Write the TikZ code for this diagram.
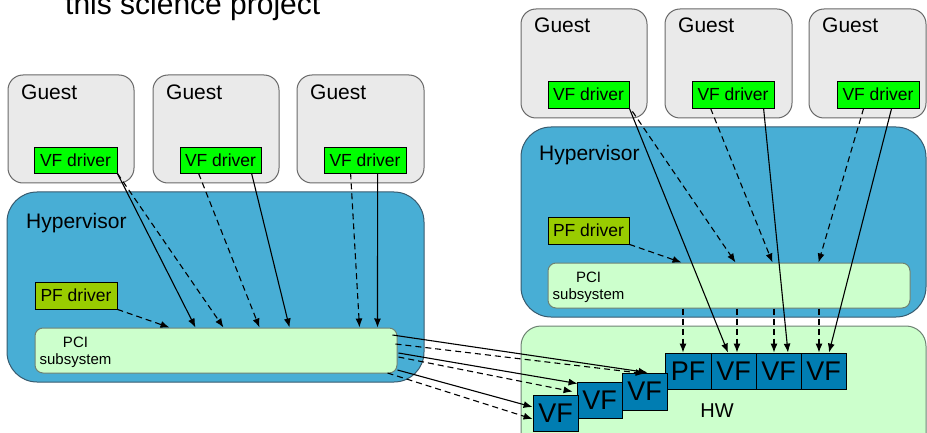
\documentclass[tikz,border=0pt]{standalone}
\usepackage{fontspec}
\setmainfont{Liberation Sans}
\usetikzlibrary{calc,arrows.meta}
\definecolor{guestfill}{RGB}{234,234,234}
\definecolor{guestline}{RGB}{105,105,105}
\definecolor{hypfill}{RGB}{72,174,213}
\definecolor{hypline}{RGB}{55,90,110}
\definecolor{pcifill}{RGB}{204,255,204}
\definecolor{pciline}{RGB}{110,130,115}
\definecolor{vfgreen}{RGB}{0,255,0}
\definecolor{pfgreen}{RGB}{153,204,0}
\definecolor{fnblue}{RGB}{0,125,178}
\begin{document}
\begin{tikzpicture}[x=1pt,y=-1pt,
  guest/.style={draw=guestline,fill=guestfill,rounded corners=15pt,line width=1pt,inner sep=0},
  hyp/.style={draw=hypline,fill=hypfill,rounded corners=30pt,line width=1pt,inner sep=0},
  pci/.style={draw=pciline,fill=pcifill,rounded corners=8pt,line width=1pt,inner sep=0},
  hwbox/.style={draw=pciline,fill=pcifill,rounded corners=20pt,line width=1pt,inner sep=0},
  vfd/.style={draw=black,fill=vfgreen,line width=0.8pt,inner sep=0,font=\fontsize{17.5}{20}\selectfont},
  pfd/.style={vfd,fill=pfgreen},
  fn/.style={draw=black,fill=fnblue,line width=0.8pt,inner sep=0,font=\fontsize{27}{30}\selectfont},
  lbl/.style={anchor=base west,inner sep=0,font=\fontsize{21}{24}\selectfont},
  pcitxt/.style={inner sep=0,align=center,font=\fontsize{15}{17}\selectfont},
  sol/.style={-{Latex[length=9pt,width=7pt]},line width=1.1pt},
  dsh/.style={sol,dash pattern=on 6pt off 4pt}]
\useasboundingbox (0,0) rectangle (927,433);

% heading
\node[anchor=base west,inner sep=0,font=\fontsize{30}{34}\selectfont] (title) at (65,15) {this science project};

% ---------- left: emulated setup ----------
\node[guest,minimum width=126,minimum height=108] (g1) at (71,129) {};
\node[guest,minimum width=126,minimum height=108] (g2) at (216,129) {};
\node[guest,minimum width=127,minimum height=108] (g3) at (360.5,129) {};
\node[lbl] (g1t) at (21,100) {Guest};
\node[lbl] (g2t) at (166,100) {Guest};
\node[lbl] (g3t) at (310,100) {Guest};
\node[vfd,minimum width=83,minimum height=26] (vl1) at (75.5,160) {VF driver};
\node[vfd,minimum width=81,minimum height=26] (vl2) at (220.5,160) {VF driver};
\node[vfd,minimum width=82,minimum height=26] (vl3) at (365,160) {VF driver};

\node[hyp,minimum width=417,minimum height=190] (hl) at (215.5,287) {};
\node[lbl] (hlt) at (26,228) {Hypervisor};
\node[pfd,minimum width=82,minimum height=27] (pl) at (76,295.5) {PF driver};
\node[pci,minimum width=362,minimum height=45] (cl) at (216,350.5) {};
\node[pcitxt] (clt) at (75.5,352.7) {PCI\\subsystem};

% ---------- right: direct assignment ----------
\node[guest,minimum width=126,minimum height=109] (g4) at (584,63.5) {};
\node[guest,minimum width=127,minimum height=109] (g5) at (728.5,63.5) {};
\node[guest,minimum width=117,minimum height=109] (g6) at (867.5,63.5) {};
\node[lbl] (g4t) at (534,33) {Guest};
\node[lbl] (g5t) at (678,33) {Guest};
\node[lbl] (g6t) at (822,33) {Guest};
\node[vfd,minimum width=81,minimum height=27] (vr1) at (588.5,94.5) {VF driver};
\node[vfd,minimum width=82,minimum height=27] (vr2) at (733,94.5) {VF driver};
\node[vfd,minimum width=82,minimum height=27] (vr3) at (878,94.5) {VF driver};

\node[hyp,minimum width=405,minimum height=190] (hr) at (723.5,222) {};
\node[lbl] (hrt) at (539,161) {Hypervisor};
\node[pfd,minimum width=81,minimum height=27] (pr) at (588.5,230.5) {PF driver};
\node[pci,minimum width=362,minimum height=45] (cr) at (729,285.5) {};
\node[pcitxt] (crt) at (588.5,287.7) {PCI\\subsystem};

% hardware with its functions
\node[hwbox,minimum width=405,minimum height=144] (hw) at (723.5,398) {};
\node[anchor=base,inner sep=0,font=\fontsize{20}{24}\selectfont] (hwt) at (717,417) {HW};
\node[fn,minimum width=46,minimum height=36] (pf) at (688,371) {PF};
\node[fn,minimum width=45,minimum height=36] (v1) at (733.5,371) {VF};
\node[fn,minimum width=45,minimum height=36] (v2) at (778.5,371) {VF};
\node[fn,minimum width=45,minimum height=36] (v3) at (823.5,371) {VF};
\node[fn,minimum width=45,minimum height=37] (va) at (644.5,391.5) {VF};
\node[fn,minimum width=45,minimum height=36] (vb) at (599.5,400) {VF};
\node[fn,minimum width=45,minimum height=36] (vc) at (555.5,413) {VF};

% ---------- left connectors ----------
\draw[sol] (vl1.south east) -- ($(cl.north west)+(161,0)$);
\draw[dsh] (vl1.south east) -- ($(cl.north west)+(189,0)$);
\draw[dsh] ($(vl2.south west)+(19,0)$) -- ($(cl.north west)+(225,0)$);
\draw[sol] ($(vl2.south west)+(72,0)$) -- ($(cl.north west)+(255,0)$);
\draw[dsh] ($(vl3.south west)+(27,0)$) -- ($(cl.north west)+(325,0)$);
\draw[sol] ($(vl3.south west)+(54,0)$) -- ($(cl.north west)+(343,0)$);
\draw[dsh] (pl.south east) -- ($(cl.north west)+(135,0)$);

% PCI subsystem to the assigned functions
\draw[sol] ($(cl.east)+(-5,-15.5)$) -- ($(va.north west)+(26,0)$);
\draw[dsh] ($(cl.east)+(-2,-6.5)$) -- ($(va.north west)+(23,1)$);
\draw[sol] ($(cl.east)+(1,2.5)$) -- ($(vb.north west)+(1,2)$);
\draw[dsh] ($(cl.east)+(1,6.5)$) -- ($(vb.north west)+(-4,10)$);
\draw[sol] ($(cl.east)+(0,19.5)$) -- ($(vc.west)+(0,-6)$);
\draw[dsh] ($(cl.east)+(-10,22.5)$) -- ($(vc.west)+(0,6)$);

% ---------- right connectors ----------
\draw[sol] (vr1.south east) -- ($(v1.north)+(-5.5,0)$);
\draw[dsh] ($(vr1.south east)+(3,3)$) -- ($(cr.north west)+(188,0)$);
\draw[dsh] ($(vr2.south west)+(19,0)$) -- ($(cr.north west)+(225,0)$);
\draw[sol] ($(vr2.south west)+(72,0)$) -- ($(v2.north)+(9.5,0)$);
\draw[dsh] ($(vr3.south west)+(27,0)$) -- ($(cr.north west)+(271,0)$);
\draw[sol] ($(vr3.south west)+(55,0)$) -- ($(v3.north)+(5.5,0)$);
\draw[dsh] (pr.south east) -- ($(cr.north west)+(134,0)$);

% PCI subsystem down to each function
\coordinate (tpf) at ($(pf.north)+(-5,0)$);
\coordinate (tv1) at ($(v1.north)+(3.5,0)$);
\coordinate (tv2) at ($(v2.north)+(-4.5,0)$);
\coordinate (tv3) at ($(v3.north)+(-4.5,0)$);
\draw[dsh] (tpf |- cr.south) -- (tpf);
\draw[dsh] (tv1 |- cr.south) -- (tv1);
\draw[dsh] (tv2 |- cr.south) -- (tv2);
\draw[dsh] (tv3 |- cr.south) -- (tv3);
\end{tikzpicture}
\end{document}
